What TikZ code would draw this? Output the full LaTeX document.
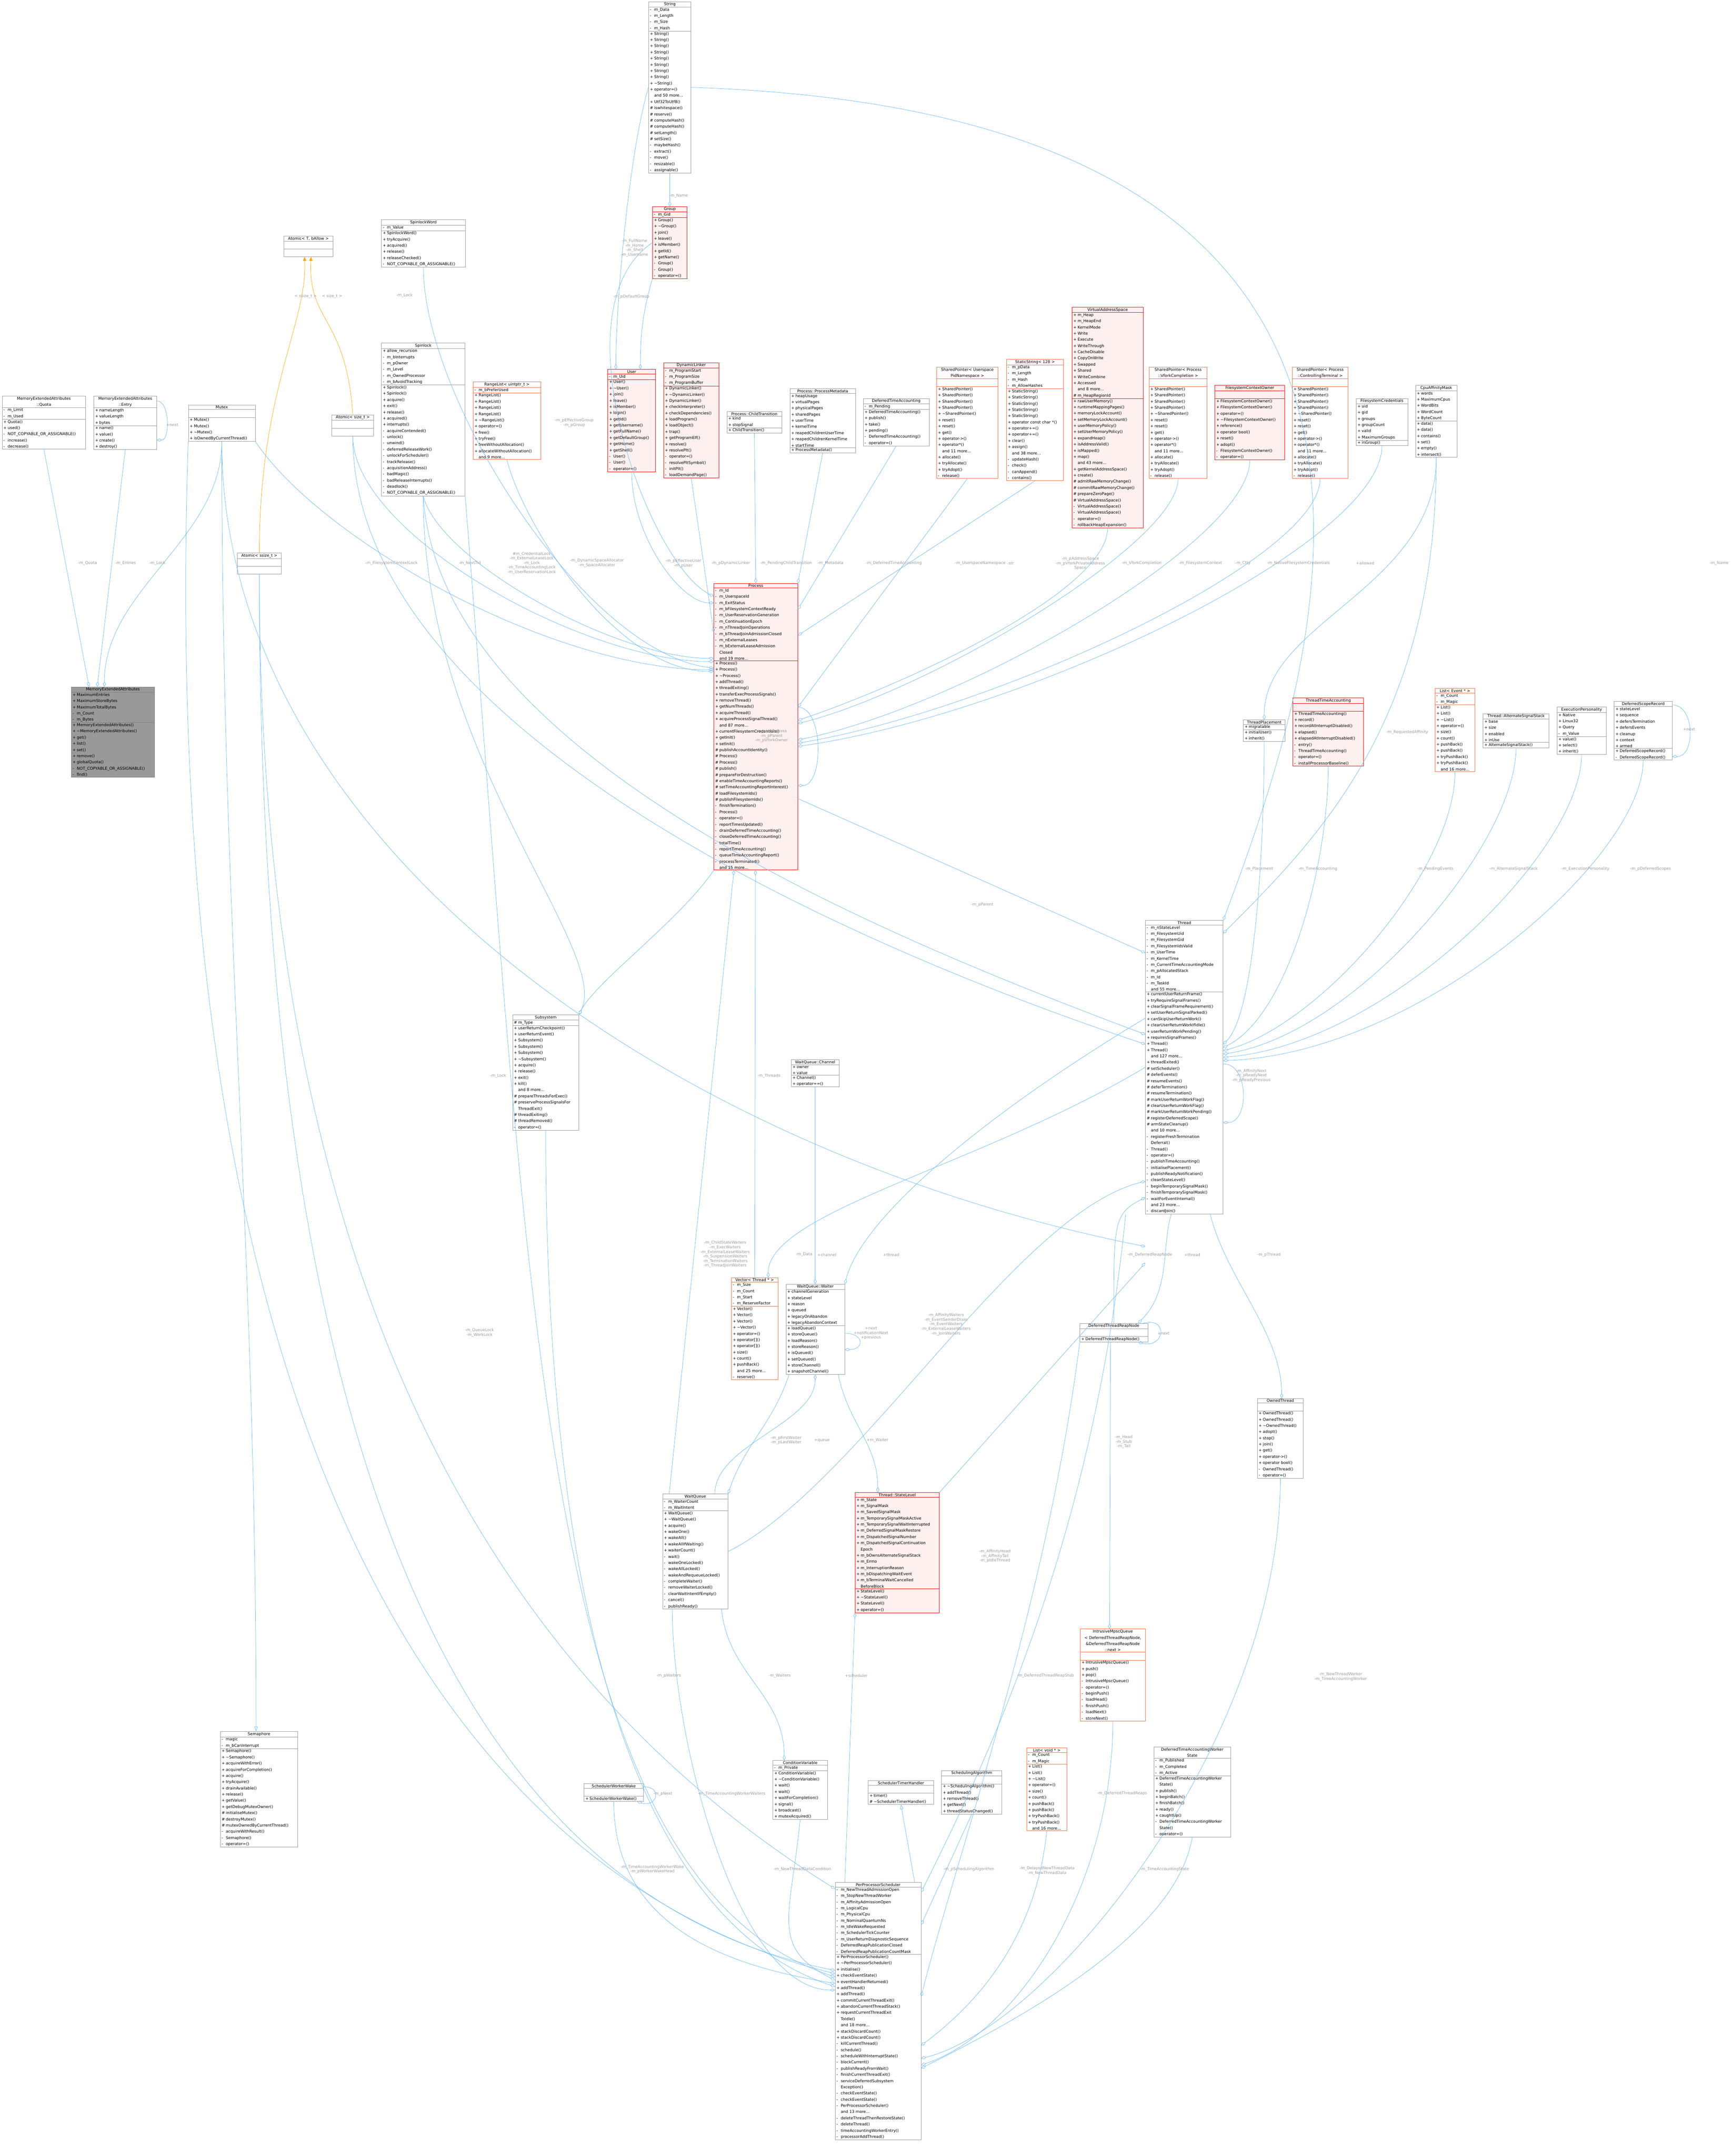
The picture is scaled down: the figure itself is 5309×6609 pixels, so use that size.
\documentclass[tikz,border=0pt]{standalone}
\usepackage{fontspec}
\setmainfont{DejaVu Sans}
\usetikzlibrary{shapes.multipart,arrows.meta,positioning}
\definecolor{edgeblue}{HTML}{63B8FF}
\definecolor{labelgray}{HTML}{9A9A9A}
\definecolor{boxgray}{HTML}{999999}
\definecolor{redfill}{HTML}{FFF0F0}
\definecolor{orangeline}{HTML}{FF6A3D}
\definecolor{tmplorange}{HTML}{FFA500}
\AtBeginDocument{\catcode`\_=12}
\newcommand{\rw}[2]{\makebox[13pt][l]{#1}#2}
\newcommand{\dt}{\textasciitilde}
\newcommand{\umlclass}[8]{% #1: node name, #2: x, #3: y (down)
                          % #4: width, #5: style, #6: title
                          % #7: fields, #8: methods
  \node (#1) [umlbox, #5, text width=#4pt-8pt, at={(#2,#3)}]
        {{\centering #6\par}\nodepart{second}#7\nodepart{third}#8};
}
\tikzset{
  umlbox/.style={rectangle split, rectangle split parts=3, draw=boxgray,
    line width=1pt, fill=white, anchor=north west, inner xsep=4pt, inner ysep=2pt,
    font=\fontsize{12}{19}\selectfont},
  redbox/.style={draw=red, fill=redfill},
  orbox/.style={draw=orangeline},
  focus/.style={fill=boxgray, draw=gray},
  agg/.style={draw=edgeblue, line width=1pt, -{Diamond[open,length=16pt,width=9pt]}},
  inh/.style={draw=edgeblue, line width=1pt, -{Triangle[open,length=14pt,width=10pt]}},
  tmpl/.style={draw=tmplorange, line width=1pt, -{Triangle[length=12pt,width=10pt]}},
  lbl/.style={text=labelgray, font=\fontsize{12}{14}\selectfont, align=center}
}
\begin{document}
\begin{tikzpicture}[x=1pt,y=-1pt]
\useasboundingbox (0,0) rectangle (5309,6609);

% ---- left column
\umlclass{mea}{218}{2105}{255}{focus}{MemoryExtendedAttributes}
 {\rw{+}{MaximumEntries}\\\rw{+}{MaximumStoreBytes}\\\rw{+}{MaximumTotalBytes}\\\rw{-}{m_Count}\\\rw{-}{m_Bytes}}
 {\rw{+}{MemoryExtendedAttributes()}\\\rw{+}{\dt MemoryExtendedAttributes()}\\\rw{+}{get()}\\\rw{+}{list()}\\\rw{+}{set()}\\\rw{+}{remove()}\\\rw{+}{globalQuota()}\\\rw{-}{NOT_COPYABLE_OR_ASSIGNABLE()}\\\rw{-}{find()}}
\umlclass{quota}{6}{1214}{256}{}{MemoryExtendedAttributes\\::Quota}
 {\rw{-}{m_Limit}\\\rw{-}{m_Used}}
 {\rw{+}{Quota()}\\\rw{+}{used()}\\\rw{-}{NOT_COPYABLE_OR_ASSIGNABLE()}\\\rw{-}{increase()}\\\rw{-}{decrease()}}
\umlclass{entry}{287}{1214}{193}{}{MemoryExtendedAttributes\\::Entry}
 {\rw{+}{nameLength}\\\rw{+}{valueLength}\\\rw{+}{bytes}}
 {\rw{+}{name()}\\\rw{+}{value()}\\\rw{+}{create()}\\\rw{+}{destroy()}}
\umlclass{mutex}{577}{1241}{205}{}{Mutex}{\strut}
 {\rw{+}{Mutex()}\\\rw{+}{Mutex()}\\\rw{+}{\dt Mutex()}\\\rw{+}{isOwnedByCurrentThread()}}
\umlclass{atomict}{870}{723}{150}{}{Atomic< T, bAllow >}{\strut}{\strut}
\umlclass{atomicsz}{1017}{1271}{128}{}{Atomic< size_t >}{\strut}{\strut}
\umlclass{atomicssz}{727}{1695}{135}{}{Atomic< ssize_t >}{\strut}{\strut}
\umlclass{spinword}{1169}{673}{257}{}{SpinlockWord}
 {\rw{-}{m_Value}}
 {\rw{+}{SpinlockWord()}\\\rw{+}{tryAcquire()}\\\rw{+}{acquired()}\\\rw{+}{release()}\\\rw{+}{releaseChecked()}\\\rw{-}{NOT_COPYABLE_OR_ASSIGNABLE()}}
\umlclass{spinlock}{1169}{1051}{256}{}{Spinlock}
 {\rw{+}{allow_recursion}\\\rw{-}{m_bInterrupts}\\\rw{-}{m_pOwner}\\\rw{-}{m_Level}\\\rw{-}{m_OwnedProcessor}\\\rw{-}{m_bAvoidTracking}}
 {\rw{+}{Spinlock()}\\\rw{+}{Spinlock()}\\\rw{+}{acquire()}\\\rw{+}{exit()}\\\rw{+}{release()}\\\rw{+}{acquired()}\\\rw{+}{interrupts()}\\\rw{-}{acquireContended()}\\\rw{-}{unlock()}\\\rw{-}{unwind()}\\\rw{-}{deferredReleaseWork()}\\\rw{-}{unlockForScheduler()}\\\rw{-}{trackRelease()}\\\rw{-}{acquisitionAddress()}\\\rw{-}{badMagic()}\\\rw{-}{badReleaseInterrupts()}\\\rw{-}{deadlock()}\\\rw{-}{NOT_COPYABLE_OR_ASSIGNABLE()}}
\umlclass{rangelist}{1450}{1170}{207}{orbox}{RangeList< uintptr_t >}
 {\rw{-}{m_bPreferUsed}}
 {\rw{+}{RangeList()}\\\rw{+}{RangeList()}\\\rw{+}{RangeList()}\\\rw{+}{RangeList()}\\\rw{+}{\dt RangeList()}\\\rw{+}{operator=()}\\\rw{+}{free()}\\\rw{+}{tryFree()}\\\rw{+}{freeWithoutAllocation()}\\\rw{+}{allocateWithoutAllocation()}\\\rw{}{and 9 more...}}

% ---- top row
\umlclass{string}{1988}{5}{130}{}{String}
 {\rw{-}{m_Data}\\\rw{-}{m_Length}\\\rw{-}{m_Size}\\\rw{-}{m_Hash}}
 {\rw{+}{String()}\\\rw{+}{String()}\\\rw{+}{String()}\\\rw{+}{String()}\\\rw{+}{String()}\\\rw{+}{String()}\\\rw{+}{String()}\\\rw{+}{String()}\\\rw{+}{\dt String()}\\\rw{+}{operator=()}\\\rw{}{and 50 more...}\\\rw{+}{Utf32ToUtf8()}\\\rw{\#}{iswhitespace()}\\\rw{\#}{reserve()}\\\rw{\#}{computeHash()}\\\rw{\#}{computeHash()}\\\rw{\#}{setLength()}\\\rw{\#}{setSize()}\\\rw{-}{maybeHash()}\\\rw{-}{extract()}\\\rw{-}{move()}\\\rw{-}{resizable()}\\\rw{-}{assignable()}}
\umlclass{group}{2000}{633}{106}{redbox}{Group}
 {\rw{-}{m_Gid}}
 {\rw{+}{Group()}\\\rw{+}{\dt Group()}\\\rw{+}{join()}\\\rw{+}{leave()}\\\rw{+}{isMember()}\\\rw{+}{getId()}\\\rw{+}{getName()}\\\rw{-}{Group()}\\\rw{-}{Group()}\\\rw{-}{operator=()}}
\umlclass{user}{1863}{1132}{146}{redbox}{User}
 {\rw{-}{m_Uid}}
 {\rw{+}{User()}\\\rw{+}{\dt User()}\\\rw{+}{join()}\\\rw{+}{leave()}\\\rw{+}{isMember()}\\\rw{+}{login()}\\\rw{+}{getId()}\\\rw{+}{getUsername()}\\\rw{+}{getFullName()}\\\rw{+}{getDefaultGroup()}\\\rw{+}{getHome()}\\\rw{+}{getShell()}\\\rw{-}{User()}\\\rw{-}{User()}\\\rw{-}{operator=()}}
\umlclass{dynlinker}{2034}{1111}{169}{redbox}{DynamicLinker}
 {\rw{-}{m_ProgramStart}\\\rw{-}{m_ProgramSize}\\\rw{-}{m_ProgramBuffer}}
 {\rw{+}{DynamicLinker()}\\\rw{+}{\dt DynamicLinker()}\\\rw{+}{DynamicLinker()}\\\rw{+}{checkInterpreter()}\\\rw{+}{checkDependencies()}\\\rw{+}{loadProgram()}\\\rw{+}{loadObject()}\\\rw{+}{trap()}\\\rw{+}{getProgramElf()}\\\rw{+}{resolve()}\\\rw{+}{resolvePlt()}\\\rw{-}{operator=()}\\\rw{-}{resolvePltSymbol()}\\\rw{-}{initPlt()}\\\rw{-}{loadDemandPage()}}
\umlclass{childtrans}{2228}{1261}{168}{}{Process::ChildTransition}
 {\rw{+}{kind}\\\rw{+}{stopSignal}}
 {\rw{+}{ChildTransition()}}
\umlclass{metadata}{2421}{1191}{201}{}{Process::ProcessMetadata}
 {\rw{+}{heapUsage}\\\rw{+}{virtualPages}\\\rw{+}{physicalPages}\\\rw{+}{sharedPages}\\\rw{+}{userTime}\\\rw{+}{kernelTime}\\\rw{+}{reapedChildrenUserTime}\\\rw{+}{reapedChildrenKernelTime}\\\rw{+}{startTime}}
 {\rw{+}{ProcessMetadata()}}
\umlclass{dta}{2646}{1221}{202}{}{DeferredTimeAccounting}
 {\rw{-}{m_Pending}}
 {\rw{+}{DeferredTimeAccounting()}\\\rw{+}{publish()}\\\rw{+}{take()}\\\rw{+}{pending()}\\\rw{-}{DeferredTimeAccounting()}\\\rw{-}{operator=()}}
\umlclass{spuns}{2871}{1125}{188}{orbox}{SharedPointer< Userspace\\PidNamespace >}{\strut}
 {\rw{+}{SharedPointer()}\\\rw{+}{SharedPointer()}\\\rw{+}{SharedPointer()}\\\rw{+}{SharedPointer()}\\\rw{+}{\dt SharedPointer()}\\\rw{+}{reset()}\\\rw{+}{reset()}\\\rw{+}{get()}\\\rw{+}{operator->()}\\\rw{+}{operator*()}\\\rw{}{and 11 more...}\\\rw{+}{allocate()}\\\rw{+}{tryAllocate()}\\\rw{+}{tryAdopt()}\\\rw{-}{release()}}
\umlclass{staticstr}{3085}{1101}{175}{orbox}{StaticString< 128 >}
 {\rw{-}{m_pData}\\\rw{-}{m_Length}\\\rw{-}{m_Hash}\\\rw{-}{m_AllowHashes}}
 {\rw{+}{StaticString()}\\\rw{+}{StaticString()}\\\rw{+}{StaticString()}\\\rw{+}{StaticString()}\\\rw{+}{StaticString()}\\\rw{+}{operator const char *()}\\\rw{+}{operator+=()}\\\rw{+}{operator+=()}\\\rw{+}{clear()}\\\rw{+}{assign()}\\\rw{}{and 38 more...}\\\rw{-}{updateHash()}\\\rw{-}{check()}\\\rw{-}{canAppend()}\\\rw{-}{contains()}}
\umlclass{vas}{3286}{941}{218}{redbox}{VirtualAddressSpace}
 {\rw{+}{m_Heap}\\\rw{+}{m_HeapEnd}\\\rw{+}{KernelMode}\\\rw{+}{Write}\\\rw{+}{Execute}\\\rw{+}{WriteThrough}\\\rw{+}{CacheDisable}\\\rw{+}{CopyOnWrite}\\\rw{+}{Swapped}\\\rw{+}{Shared}\\\rw{+}{WriteCombine}\\\rw{+}{Accessed}\\\rw{}{and 8 more...}\\\rw{\#}{m_HeapRegionId}}
 {\rw{+}{rawUserMemory()}\\\rw{+}{runtimeMappingPages()}\\\rw{+}{memoryLockAccount()}\\\rw{+}{setMemoryLockAccount()}\\\rw{+}{userMemoryPolicy()}\\\rw{+}{setUserMemoryPolicy()}\\\rw{+}{expandHeap()}\\\rw{+}{isAddressValid()}\\\rw{+}{isMapped()}\\\rw{+}{map()}\\\rw{}{and 43 more...}\\\rw{+}{getKernelAddressSpace()}\\\rw{+}{create()}\\\rw{\#}{admitRawMemoryChange()}\\\rw{\#}{commitRawMemoryChange()}\\\rw{\#}{prepareZeroPage()}\\\rw{\#}{VirtualAddressSpace()}\\\rw{-}{VirtualAddressSpace()}\\\rw{-}{VirtualAddressSpace()}\\\rw{-}{operator=()}\\\rw{-}{rollbackHeapExpansion()}}
\umlclass{spvfork}{3522}{1125}{178}{orbox}{SharedPointer< Process\\::VforkCompletion >}{\strut}
 {\rw{+}{SharedPointer()}\\\rw{+}{SharedPointer()}\\\rw{+}{SharedPointer()}\\\rw{+}{SharedPointer()}\\\rw{+}{\dt SharedPointer()}\\\rw{+}{reset()}\\\rw{+}{reset()}\\\rw{+}{get()}\\\rw{+}{operator->()}\\\rw{+}{operator*()}\\\rw{}{and 11 more...}\\\rw{+}{allocate()}\\\rw{+}{tryAllocate()}\\\rw{+}{tryAdopt()}\\\rw{-}{release()}}
\umlclass{fsowner}{3724}{1181}{214}{redbox}{FilesystemContextOwner}{\strut}
 {\rw{+}{FilesystemContextOwner()}\\\rw{+}{FilesystemContextOwner()}\\\rw{+}{operator=()}\\\rw{+}{\dt FilesystemContextOwner()}\\\rw{+}{reference()}\\\rw{+}{operator bool()}\\\rw{+}{reset()}\\\rw{+}{adopt()}\\\rw{-}{FilesystemContextOwner()}\\\rw{-}{operator=()}}
\umlclass{spctty}{3961}{1125}{171}{orbox}{SharedPointer< Process\\::ControllingTerminal >}{\strut}
 {\rw{+}{SharedPointer()}\\\rw{+}{SharedPointer()}\\\rw{+}{SharedPointer()}\\\rw{+}{SharedPointer()}\\\rw{+}{\dt SharedPointer()}\\\rw{+}{reset()}\\\rw{+}{reset()}\\\rw{+}{get()}\\\rw{+}{operator->()}\\\rw{+}{operator*()}\\\rw{}{and 11 more...}\\\rw{+}{allocate()}\\\rw{+}{tryAllocate()}\\\rw{+}{tryAdopt()}\\\rw{-}{release()}}
\umlclass{fscred}{4157}{1221}{158}{}{FilesystemCredentials}
 {\rw{+}{uid}\\\rw{+}{gid}\\\rw{+}{groups}\\\rw{+}{groupCount}\\\rw{+}{valid}\\\rw{+}{MaximumGroups}}
 {\rw{+}{inGroup()}}
\umlclass{cpumask}{4339}{1181}{127}{}{CpuAffinityMask}
 {\rw{+}{words}\\\rw{+}{MaximumCpus}\\\rw{+}{WordBits}\\\rw{+}{WordCount}\\\rw{+}{ByteCount}}
 {\rw{+}{data()}\\\rw{+}{data()}\\\rw{+}{contains()}\\\rw{+}{set()}\\\rw{+}{empty()}\\\rw{+}{intersect()}}

% ---- centre
\umlclass{process}{2188}{1788}{257}{redbox}{Process}
 {\rw{-}{m_Id}\\\rw{-}{m_UserspaceId}\\\rw{-}{m_ExitStatus}\\\rw{-}{m_bFilesystemContextReady}\\\rw{-}{m_UserReservationGeneration}\\\rw{-}{m_ContinuationEpoch}\\\rw{-}{m_nThreadJoinOperations}\\\rw{-}{m_bThreadJoinAdmissionClosed}\\\rw{-}{m_nExternalLeases}\\\rw{-}{m_bExternalLeaseAdmission}\\\rw{}{Closed}\\\rw{}{and 19 more...}}
 {\rw{+}{Process()}\\\rw{+}{Process()}\\\rw{+}{\dt Process()}\\\rw{+}{addThread()}\\\rw{+}{threadExiting()}\\\rw{+}{transferExecProcessSignals()}\\\rw{+}{removeThread()}\\\rw{+}{getNumThreads()}\\\rw{+}{acquireThread()}\\\rw{+}{acquireProcessSignalThread()}\\\rw{}{and 87 more...}\\\rw{+}{currentFilesystemCredentials()}\\\rw{+}{getInit()}\\\rw{+}{setInit()}\\\rw{\#}{publishAccountIdentity()}\\\rw{\#}{Process()}\\\rw{\#}{Process()}\\\rw{\#}{publish()}\\\rw{\#}{prepareForDestruction()}\\\rw{\#}{enableTimeAccountingReports()}\\\rw{\#}{setTimeAccountingReportInterest()}\\\rw{\#}{loadFilesystemIds()}\\\rw{\#}{publishFilesystemIds()}\\\rw{-}{finishTermination()}\\\rw{-}{Process()}\\\rw{-}{operator=()}\\\rw{-}{reportTimesUpdated()}\\\rw{-}{drainDeferredTimeAccounting()}\\\rw{-}{closeDeferredTimeAccounting()}\\\rw{-}{totalTime()}\\\rw{-}{reportTimeAccounting()}\\\rw{-}{queueTimeAccountingReport()}\\\rw{-}{processTerminated()}\\\rw{}{and 15 more...}}
\umlclass{thread}{3511}{2821}{238}{}{Thread}
 {\rw{-}{m_nStateLevel}\\\rw{-}{m_FilesystemUid}\\\rw{-}{m_FilesystemGid}\\\rw{-}{m_FilesystemIdsValid}\\\rw{-}{m_UserTime}\\\rw{-}{m_KernelTime}\\\rw{-}{m_CurrentTimeAccountingMode}\\\rw{-}{m_pAllocatedStack}\\\rw{-}{m_Id}\\\rw{-}{m_TaskId}\\\rw{}{and 55 more...}}
 {\rw{+}{currentUserReturnFrame()}\\\rw{+}{tryRequireSignalFrames()}\\\rw{+}{clearSignalFrameRequirement()}\\\rw{+}{setUserReturnSignalParked()}\\\rw{+}{canSkipUserReturnWork()}\\\rw{+}{clearUserReturnWorkIfIdle()}\\\rw{+}{userReturnWorkPending()}\\\rw{+}{requiresSignalFrames()}\\\rw{+}{Thread()}\\\rw{+}{Thread()}\\\rw{}{and 127 more...}\\\rw{+}{threadExited()}\\\rw{\#}{setScheduler()}\\\rw{\#}{deferEvents()}\\\rw{\#}{resumeEvents()}\\\rw{\#}{deferTermination()}\\\rw{\#}{resumeTermination()}\\\rw{\#}{markUserReturnWorkFlag()}\\\rw{\#}{clearUserReturnWorkFlag()}\\\rw{\#}{markUserReturnWorkPending()}\\\rw{\#}{registerDeferredScope()}\\\rw{\#}{armStateCleanup()}\\\rw{}{and 10 more...}\\\rw{-}{registerFreshTermination}\\\rw{}{Deferral()}\\\rw{-}{Thread()}\\\rw{-}{operator=()}\\\rw{-}{publishTimeAccounting()}\\\rw{-}{initialisePlacement()}\\\rw{-}{publishReadyNotification()}\\\rw{-}{cleanStateLevel()}\\\rw{-}{beginTemporarySignalMask()}\\\rw{-}{finishTemporarySignalMask()}\\\rw{-}{waitForEventInternal()}\\\rw{}{and 23 more...}\\\rw{-}{discardJoin()}}

% ---- right column
\umlclass{tplace}{3811}{2206}{128}{}{ThreadPlacement}
 {\rw{+}{migratable}}
 {\rw{+}{initialUser()}\\\rw{+}{inherit()}}
\umlclass{tta}{3963}{2139}{217}{redbox}{ThreadTimeAccounting}{\strut}
 {\rw{+}{ThreadTimeAccounting()}\\\rw{+}{record()}\\\rw{+}{recordAtInterruptDisabled()}\\\rw{+}{elapsed()}\\\rw{+}{elapsedAtInterruptDisabled()}\\\rw{-}{entry()}\\\rw{-}{ThreadTimeAccounting()}\\\rw{-}{operator=()}\\\rw{-}{installProcessorBaseline()}}
\umlclass{listevent}{4399}{2110}{122}{orbox}{List< Event * >}
 {\rw{-}{m_Count}\\\rw{-}{m_Magic}}
 {\rw{+}{List()}\\\rw{+}{List()}\\\rw{+}{\dt List()}\\\rw{+}{operator=()}\\\rw{+}{size()}\\\rw{+}{count()}\\\rw{+}{pushBack()}\\\rw{+}{pushBack()}\\\rw{+}{tryPushBack()}\\\rw{+}{tryPushBack()}\\\rw{}{and 16 more...}}
\umlclass{altstack}{4546}{2187}{202}{}{Thread::AlternateSignalStack}
 {\rw{+}{base}\\\rw{+}{size}\\\rw{+}{enabled}\\\rw{+}{inUse}}
 {\rw{+}{AlternateSignalStack()}}
\umlclass{execpers}{4773}{2167}{150}{}{ExecutionPersonality}
 {\rw{+}{Native}\\\rw{+}{Linux32}\\\rw{+}{Query}\\\rw{-}{m_Value}}
 {\rw{+}{value()}\\\rw{+}{select()}\\\rw{+}{inherit()}}
\umlclass{dsr}{4948}{2149}{178}{}{DeferredScopeRecord}
 {\rw{+}{stateLevel}\\\rw{+}{sequence}\\\rw{+}{defersTermination}\\\rw{+}{defersEvents}\\\rw{+}{cleanup}\\\rw{+}{context}\\\rw{+}{armed}}
 {\rw{+}{DeferredScopeRecord()}\\\rw{-}{DeferredScopeRecord()}}

% ---- middle
\umlclass{subsystem}{1571}{3110}{203}{}{Subsystem}
 {\rw{\#}{m_Type}}
 {\rw{+}{userReturnCheckpoint()}\\\rw{+}{userReturnEvent()}\\\rw{+}{Subsystem()}\\\rw{+}{Subsystem()}\\\rw{+}{Subsystem()}\\\rw{+}{\dt Subsystem()}\\\rw{+}{acquire()}\\\rw{+}{release()}\\\rw{+}{exit()}\\\rw{+}{kill()}\\\rw{}{and 8 more...}\\\rw{\#}{prepareThreadsForExec()}\\\rw{\#}{preserveProcessSignalsFor}\\\rw{}{ThreadExit()}\\\rw{\#}{threadExiting()}\\\rw{\#}{threadRemoved()}\\\rw{-}{operator=()}}
\umlclass{channel}{2425}{3248}{147}{}{WaitQueue::Channel}
 {\rw{+}{owner}\\\rw{+}{value}}
 {\rw{+}{Channel()}\\\rw{+}{operator==()}}
\umlclass{vector}{2242}{3916}{142}{orbox}{Vector< Thread * >}
 {\rw{-}{m_Size}\\\rw{-}{m_Count}\\\rw{-}{m_Start}\\\rw{-}{m_ReserveFactor}}
 {\rw{+}{Vector()}\\\rw{+}{Vector()}\\\rw{+}{Vector()}\\\rw{+}{\dt Vector()}\\\rw{+}{operator=()}\\\rw{+}{operator[]()}\\\rw{+}{operator[]()}\\\rw{+}{size()}\\\rw{+}{count()}\\\rw{+}{pushBack()}\\\rw{}{and 25 more...}\\\rw{-}{reserve()}}
\umlclass{waiter}{2409}{3936}{180}{}{WaitQueue::Waiter}
 {\rw{+}{channelGeneration}\\\rw{+}{stateLevel}\\\rw{+}{reason}\\\rw{+}{queued}\\\rw{+}{legacyOnAbandon}\\\rw{+}{legacyAbandonContext}}
 {\rw{+}{loadQueue()}\\\rw{+}{storeQueue()}\\\rw{+}{loadReason()}\\\rw{+}{storeReason()}\\\rw{+}{isQueued()}\\\rw{+}{setQueued()}\\\rw{+}{storeChannel()}\\\rw{+}{snapshotChannel()}}
\umlclass{dtrn}{3310}{4056}{208}{}{DeferredThreadReapNode}{\strut}
 {\rw{+}{DeferredThreadReapNode()}}
\umlclass{owned}{3854}{4286}{141}{}{OwnedThread}{\strut}
 {\rw{+}{OwnedThread()}\\\rw{+}{OwnedThread()}\\\rw{+}{\dt OwnedThread()}\\\rw{+}{adopt()}\\\rw{+}{stop()}\\\rw{+}{join()}\\\rw{+}{get()}\\\rw{+}{operator->()}\\\rw{+}{operator bool()}\\\rw{-}{OwnedThread()}\\\rw{-}{operator=()}}
\umlclass{waitqueue}{2031}{4579}{200}{}{WaitQueue}
 {\rw{-}{m_WaiterCount}\\\rw{-}{m_WaitIntent}}
 {\rw{+}{WaitQueue()}\\\rw{+}{\dt WaitQueue()}\\\rw{+}{acquire()}\\\rw{+}{wakeOne()}\\\rw{+}{wakeAll()}\\\rw{+}{wakeAllIfWaiting()}\\\rw{+}{waiterCount()}\\\rw{-}{wait()}\\\rw{-}{wakeOneLocked()}\\\rw{-}{wakeAllLocked()}\\\rw{-}{wakeAndRequeueLocked()}\\\rw{-}{completeWaiter()}\\\rw{-}{removeWaiterLocked()}\\\rw{-}{clearWaitIntentIfEmpty()}\\\rw{-}{cancel()}\\\rw{-}{publishReady()}}
\umlclass{statelevel}{2621}{4575}{258}{redbox}{Thread::StateLevel}
 {\rw{+}{m_State}\\\rw{+}{m_SignalMask}\\\rw{+}{m_SavedSignalMask}\\\rw{+}{m_TemporarySignalMaskActive}\\\rw{+}{m_TemporarySignalWaitInterrupted}\\\rw{+}{m_DeferredSignalMaskRestore}\\\rw{+}{m_DispatchedSignalNumber}\\\rw{+}{m_DispatchedSignalContinuation}\\\rw{}{Epoch}\\\rw{+}{m_bOwnsAlternateSignalStack}\\\rw{+}{m_Errno}\\\rw{+}{m_InterruptionReason}\\\rw{+}{m_bDispatchingWaitEvent}\\\rw{+}{m_bTerminalWaitCancelled}\\\rw{}{BeforeBlock}}
 {\rw{+}{StateLevel()}\\\rw{+}{\dt StateLevel()}\\\rw{+}{StateLevel()}\\\rw{+}{operator=()}}
\umlclass{mpsc}{3311}{4993}{200}{orbox}{IntrusiveMpscQueue\\< DeferredThreadReapNode,\\ \&DeferredThreadReapNode\\::next >}{\strut}
 {\rw{+}{IntrusiveMpscQueue()}\\\rw{+}{push()}\\\rw{+}{pop()}\\\rw{-}{IntrusiveMpscQueue()}\\\rw{-}{operator=()}\\\rw{-}{beginPush()}\\\rw{-}{loadHead()}\\\rw{-}{finishPush()}\\\rw{-}{loadNext()}\\\rw{-}{storeNext()}}

% ---- bottom
\umlclass{semaphore}{675}{5307}{237}{}{Semaphore}
 {\rw{-}{magic}\\\rw{-}{m_bCanInterrupt}}
 {\rw{+}{Semaphore()}\\\rw{+}{\dt Semaphore()}\\\rw{+}{acquireWithError()}\\\rw{+}{acquireForCompletion()}\\\rw{+}{acquire()}\\\rw{+}{tryAcquire()}\\\rw{+}{drainAvailable()}\\\rw{+}{release()}\\\rw{+}{getValue()}\\\rw{+}{getDebugMutexOwner()}\\\rw{\#}{initialiseMutex()}\\\rw{\#}{destroyMutex()}\\\rw{\#}{mutexOwnedByCurrentThread()}\\\rw{-}{acquireWithResult()}\\\rw{-}{Semaphore()}\\\rw{-}{operator=()}}
\umlclass{sww}{1790}{5467}{182}{}{SchedulerWorkerWake}{\strut}
 {\rw{+}{SchedulerWorkerWake()}}
\umlclass{condvar}{2369}{5396}{167}{}{ConditionVariable}
 {\rw{-}{m_Private}}
 {\rw{+}{ConditionVariable()}\\\rw{+}{\dt ConditionVariable()}\\\rw{+}{wait()}\\\rw{+}{wait()}\\\rw{+}{waitForCompletion()}\\\rw{+}{signal()}\\\rw{+}{broadcast()}\\\rw{+}{mutexAcquired()}}
\umlclass{sth}{2661}{5458}{201}{}{SchedulerTimerHandler}{\strut}
 {\rw{+}{timer()}\\\rw{\#}{\dt SchedulerTimerHandler()}}
\umlclass{schedalg}{2886}{5427}{185}{}{SchedulingAlgorithm}{\strut}
 {\rw{+}{\dt SchedulingAlgorithm()}\\\rw{+}{addThread()}\\\rw{+}{removeThread()}\\\rw{+}{getNext()}\\\rw{+}{threadStatusChanged()}}
\umlclass{listvoid}{3147}{5357}{123}{orbox}{List< void * >}
 {\rw{-}{m_Count}\\\rw{-}{m_Magic}}
 {\rw{+}{List()}\\\rw{+}{List()}\\\rw{+}{\dt List()}\\\rw{+}{operator=()}\\\rw{+}{size()}\\\rw{+}{count()}\\\rw{+}{pushBack()}\\\rw{+}{pushBack()}\\\rw{+}{tryPushBack()}\\\rw{+}{tryPushBack()}\\\rw{}{and 16 more...}}
\umlclass{dtaws}{3537}{5355}{235}{}{DeferredTimeAccountingWorker\\State}
 {\rw{-}{m_Published}\\\rw{-}{m_Completed}\\\rw{-}{m_Active}}
 {\rw{+}{DeferredTimeAccountingWorker}\\\rw{}{State()}\\\rw{+}{publish()}\\\rw{+}{beginBatch()}\\\rw{+}{finishBatch()}\\\rw{+}{ready()}\\\rw{+}{caughtUp()}\\\rw{-}{DeferredTimeAccountingWorker}\\\rw{}{State()}\\\rw{-}{operator=()}}
\umlclass{pps}{2560}{5770}{263}{}{PerProcessorScheduler}
 {\rw{-}{m_NewThreadAdmissionOpen}\\\rw{-}{m_StopNewThreadWorker}\\\rw{-}{m_AffinityAdmissionOpen}\\\rw{-}{m_LogicalCpu}\\\rw{-}{m_PhysicalCpu}\\\rw{-}{m_NominalQuantumNs}\\\rw{-}{m_IdleWakeRequested}\\\rw{-}{m_SchedulerTickCounter}\\\rw{-}{m_UserReturnDiagnosticSequence}\\\rw{-}{DeferredReapPublicationClosed}\\\rw{-}{DeferredReapPublicationCountMask}}
 {\rw{+}{PerProcessorScheduler()}\\\rw{+}{\dt PerProcessorScheduler()}\\\rw{+}{initialise()}\\\rw{+}{checkEventState()}\\\rw{+}{eventHandlerReturned()}\\\rw{+}{addThread()}\\\rw{+}{addThread()}\\\rw{+}{commitCurrentThreadExit()}\\\rw{+}{abandonCurrentThreadStack()}\\\rw{+}{requestCurrentThreadExit}\\\rw{}{ToIdle()}\\\rw{}{and 18 more...}\\\rw{+}{stackDiscardCount()}\\\rw{+}{stackDiscardCount()}\\\rw{-}{killCurrentThread()}\\\rw{-}{schedule()}\\\rw{-}{scheduleWithInterruptState()}\\\rw{-}{blockCurrent()}\\\rw{-}{publishReadyFromWait()}\\\rw{-}{finishCurrentThreadExit()}\\\rw{-}{serviceDeferredSubsystem}\\\rw{}{Exception()}\\\rw{-}{checkEventState()}\\\rw{-}{checkEventState()}\\\rw{-}{PerProcessorScheduler()}\\\rw{}{and 13 more...}\\\rw{-}{deleteThreadThenRestoreState()}\\\rw{-}{deleteThread()}\\\rw{-}{timeAccountingWorkerEntry()}\\\rw{-}{processorAddThread()}}

% ---- connectors
\draw[agg] (quota.south) -- ([xshift=55pt]mea.north west);
\draw[agg] (entry.south) -- ([xshift=80pt]mea.north west);
\draw[agg] (mutex.south) .. controls +(0,300) and +(0,-300) .. ([xshift=102pt]mea.north west);
\draw[agg] ([yshift=-15pt]entry.north east) .. controls +(40,0) and +(40,0) .. ([yshift=30pt]entry.south east);
\draw[tmpl] (atomicsz.north) .. controls +(-20,-300) and +(-10,200) .. ([xshift=8pt]atomict.south);
\draw[tmpl] (atomicssz.north) .. controls +(0,-500) and +(10,200) .. ([xshift=-12pt]atomict.south);
\draw[inh] (mutex.south) .. controls +(0,1500) and +(0,-1500) .. ([xshift=110pt]semaphore.north west);
\draw[agg] (string.south) -- (group.north);
\draw[agg] (string.west) .. controls +(-60,200) and +(0,-200) .. ([xshift=25pt]user.north west);
\draw[agg] (string.east) .. controls +(2500,80) and +(300,-800) .. (thread.north east);
\draw[agg] (group.south west) .. controls +(-30,100) and +(0,-100) .. ([xshift=100pt]user.north west);
\draw[agg] (group.west) .. controls +(-300,200) and +(-200,-100) .. ([yshift=-40pt]process.north west);
\draw[agg] (user.south) .. controls +(0,200) and +(-100,0) .. ([yshift=-60pt]process.north west);
\draw[agg] (dynlinker.south) -- ([yshift=-150pt]process.north west);
\draw[agg] (childtrans.south) -- (process.north);
\draw[agg] (metadata.south) -- (process.north east);
\draw[agg] (dta.south) -- ([yshift=-80pt]process.north east);
\draw[agg] (spuns.south) -- ([yshift=-380pt]process.north east);
\draw[agg] (staticstr.south) -- ([yshift=-160pt]process.north east);
\draw[agg] (vas.south) .. controls +(0,200) and +(300,-100) .. ([yshift=-420pt]process.north east);
\draw[agg] (spvfork.south) .. controls +(0,200) and +(400,-100) .. ([yshift=-430pt]process.north east);
\draw[agg] (fsowner.south) .. controls +(0,250) and +(500,-100) .. ([yshift=-480pt]process.north east);
\draw[agg] (spctty.south) .. controls +(0,250) and +(600,-100) .. ([yshift=-490pt]process.north east);
\draw[agg] (fscred.south) .. controls +(0,300) and +(700,-100) .. ([yshift=-500pt]process.north east);
\draw[agg] (cpumask.south) .. controls +(0,400) and +(0,-300) .. (tplace.north);
\draw[agg] (cpumask.south) .. controls +(0,800) and +(300,-300) .. ([yshift=-40pt]thread.north east);
\draw[agg] (spinlock.south) .. controls +(50,200) and +(-300,0) .. ([yshift=-230pt]process.north west);
\draw[agg] (spinlock.south) .. controls +(50,800) and +(-800,-300) .. ([yshift=-350pt]thread.north west);
\draw[agg] (spinlock.south) .. controls +(0,800) and +(100,-200) .. (subsystem.north east);
\draw[agg] (atomicsz.south) .. controls +(0,300) and +(-400,0) .. ([yshift=-240pt]process.north west);
\draw[agg] (atomicsz.south) .. controls +(0,900) and +(-900,-300) .. ([yshift=-380pt]thread.north west);
\draw[agg] (spinword.south) .. controls +(0,400) and +(-400,-50) .. ([yshift=-260pt]process.north west);
\draw[agg] (mutex.south east) .. controls +(200,300) and +(-500,0) .. ([yshift=-265pt]process.north west);
\draw[agg] (mutex.south) .. controls +(0,1200) and +(-1500,-300) .. ([yshift=-1000pt]thread.north west);
\draw[agg] (atomicssz.south) .. controls +(0,2500) and +(-800,-500) .. ([yshift=-20pt]pps.north west);
\draw[agg] (rangelist.south) .. controls +(50,200) and +(-300,0) .. ([yshift=-270pt]process.north west);
\draw[agg] ([yshift=-380pt]process.north east) .. controls +(80,0) and +(80,0) .. ([yshift=-620pt]process.north east);
\draw[agg] ([yshift=-660pt]process.north east) -- ([yshift=-100pt]thread.north west);
\draw[agg] (process.south west) .. controls +(-100,150) and +(50,-100) .. (subsystem.north east);
\draw[agg] (vector.north) -- ([xshift=128pt]process.south west);
\draw[agg] ([xshift=-80pt]waitqueue.north) -- ([xshift=62pt]process.south west);
\draw[agg] (thread.west) .. controls +(-500,300) and +(0,-200) .. ([xshift=113pt]vector.north west);
\draw[agg] (channel.south) -- ([xshift=90pt]waiter.north west);
\draw[agg] ([yshift=-300pt]thread.north west) .. controls +(-500,300) and +(50,-200) .. (waiter.north east);
\draw[agg] ([yshift=-12pt]waiter.east) .. controls +(60,0) and +(60,0) .. ([yshift=-62pt]waiter.east);
\draw[agg] ([xshift=10pt]waiter.south west) .. controls +(-50,150) and +(50,-150) .. (waitqueue.north east);
\draw[agg] ([xshift=60pt]waitqueue.north) .. controls +(0,-150) and +(0,150) .. ([xshift=90pt]waiter.south west);
\draw[agg] ([xshift=-20pt]waiter.south east) .. controls +(30,150) and +(0,-150) .. ([xshift=70pt]statelevel.north west);
\draw[agg] (waitqueue.east) .. controls +(400,-200) and +(-400,100) .. ([yshift=-800pt]thread.north west);
\draw[agg] (statelevel.north east) -- ([yshift=-1050pt]thread.north west);
\draw[agg] ([yshift=-440pt]thread.north east) .. controls +(80,0) and +(80,0) .. ([yshift=-620pt]thread.north east);
\draw[agg] ([xshift=-40pt]thread.south east) .. controls +(50,200) and +(0,-200) .. ([xshift=75pt]owned.north west);
\draw[agg] ([xshift=-40pt]thread.south) .. controls +(-30,100) and +(100,-100) .. ([xshift=-30pt]dtrn.north east);
\draw[agg] (dtrn.north) .. controls +(0,-300) and +(-100,50) .. ([yshift=-850pt]thread.north west);
\draw[agg] ([xshift=-15pt]dtrn.north east) .. controls +(80,-20) and +(80,20) .. ([xshift=-30pt]dtrn.south east);
\draw[agg] ([xshift=-10pt]dtrn.south) -- ([xshift=-10pt]mpsc.north);
\draw[agg] (tplace.south) .. controls +(0,300) and +(100,-100) .. ([yshift=-380pt]thread.north east);
\draw[agg] (tta.south) .. controls +(0,300) and +(200,-100) .. ([yshift=-390pt]thread.north east);
\draw[agg] (listevent.south) .. controls +(0,300) and +(300,-80) .. ([yshift=-400pt]thread.north east);
\draw[agg] (altstack.south) .. controls +(0,300) and +(400,-60) .. ([yshift=-410pt]thread.north east);
\draw[agg] (execpers.south) .. controls +(0,300) and +(500,-40) .. ([yshift=-420pt]thread.north east);
\draw[agg] (dsr.south) .. controls +(0,300) and +(600,-20) .. ([yshift=-430pt]thread.north east);
\draw[agg] ([yshift=-12pt]dsr.north east) .. controls +(70,0) and +(70,0) .. ([yshift=-170pt]dsr.north east);
\draw[agg] ([xshift=30pt]waitqueue.south west) .. controls +(0,400) and +(-300,0) .. ([yshift=-330pt]pps.north west);
\draw[agg] ([xshift=-20pt]waitqueue.south east) .. controls +(20,200) and +(0,-200) .. ([xshift=35pt]condvar.north west);
\draw[agg] ([xshift=30pt]pps.north west) -- (statelevel.south west);
\draw[agg] ([xshift=-60pt]thread.south west) .. controls +(-100,1000) and +(200,-400) .. ([yshift=-30pt]pps.north east);
\draw[agg] (dtrn.south west) .. controls +(-100,800) and +(100,-400) .. ([yshift=-350pt]pps.north east);
\draw[agg] (mpsc.south) .. controls +(0,500) and +(300,-100) .. ([yshift=-560pt]pps.north east);
\draw[agg] (sww.south) .. controls +(0,400) and +(-300,-50) .. ([yshift=-310pt]pps.north west);
\draw[agg] ([yshift=-10pt]sww.north east) .. controls +(60,0) and +(60,20) .. ([xshift=-20pt]sww.south east);
\draw[agg] (subsystem.south) .. controls +(0,1500) and +(-600,-200) .. ([yshift=-320pt]pps.north west);
\draw[agg] (condvar.south) .. controls +(-30,300) and +(-200,-100) .. ([yshift=-300pt]pps.north west);
\draw[inh] ([xshift=-20pt]pps.north east) -- (sth.south);
\draw[agg] (schedalg.south) -- ([yshift=-130pt]pps.north east);
\draw[agg] (listvoid.south) .. controls +(-30,300) and +(200,-150) .. ([yshift=-500pt]pps.north east);
\draw[agg] (dtaws.south) .. controls +(-50,300) and +(300,-150) .. ([yshift=-570pt]pps.north east);
\draw[agg] (owned.south) .. controls +(0,800) and +(400,-100) .. ([yshift=-540pt]pps.north east);
\draw[agg] (spinlock.south east) .. controls +(200,2500) and +(-900,-300) .. ([yshift=-290pt]pps.north west);
\draw[agg] (mutex.south west) .. controls +(-100,3000) and +(-1200,-300) .. ([yshift=-280pt]pps.north west);
\draw[agg] (atomicssz.south) .. controls +(0,3000) and +(-1000,-200) .. ([yshift=-270pt]pps.north west);

% ---- connector labels
\node (l_quota) [lbl] at (268,1726) {-m_Quota};
\node (l_entries) [lbl] at (385,1726) {-m_Entries};
\node (l_lock) [lbl] at (482,1726) {-m_Lock};
\node (l_next1) [lbl] at (528,1303) {+next};
\node (l_sizet) [lbl] at (1018,908) {< size_t >};
\node (l_ssizet) [lbl] at (937,908) {< ssize_t >};
\node (l_word) [lbl] at (1240,906) {-m_Lock};
\node (l_fsclock) [lbl] at (1200,1726) {-m_FilesystemContextLock};
\node (l_nexttid) [lbl] at (1440,1726) {-m_NextTid};
\node (l_locks) [lbl] at (1630,1726) {\#m_CredentialLock\\-m_ExternalLeaseLock\\-m_Lock\\-m_TimeAccountingLock\\-m_UserReservationLock};
\node (l_space) [lbl] at (1830,1726) {-m_DynamicSpaceAllocator\\-m_SpaceAllocator};
\node (l_gname) [lbl] at (2080,600) {-m_Name};
\node (l_uname) [lbl] at (1945,760) {-m_FullName\\-m_Home\\-m_Shell\\-m_Username};
\node (l_defgroup) [lbl] at (1935,909) {-m_pDefaultGroup};
\node (l_pgroup) [lbl] at (1760,1296) {-m_pEffectiveGroup\\-m_pGroup};
\node (l_puser) [lbl] at (2095,1727) {-m_pEffectiveUser\\-m_pUser};
\node (l_dynl) [lbl] at (2240,1727) {-m_pDynamicLinker};
\node (l_pct) [lbl] at (2410,1727) {-m_PendingChildTransition};
\node (l_meta) [lbl] at (2546,1727) {-m_Metadata};
\node (l_dta) [lbl] at (2740,1727) {-m_DeferredTimeAccounting};
\node (l_uns) [lbl] at (3005,1727) {-m_UserspaceNamespace};
\node (l_str) [lbl] at (3098,1727) {-str};
\node (l_vas) [lbl] at (3312,1727) {-m_pAddressSpace\\-m_pVforkPrivateAddress\\Space};
\node (l_vfork) [lbl] at (3500,1727) {-m_VforkCompletion};
\node (l_fsc) [lbl] at (3680,1727) {-m_FilesystemContext};
\node (l_ctty) [lbl] at (3810,1727) {-m_Ctty};
\node (l_nfc) [lbl] at (3980,1727) {-m_NativeFilesystemCredentials};
\node (l_allowed) [lbl] at (4185,1727) {+allowed};
\node (l_name) [lbl] at (5270,1727) {-m_Name};
\node (l_selfp) [lbl] at (2365,2256) {-m_pInitProcess\\-m_pParent\\-m_pVforkOwner};
\node (l_parent) [lbl] at (3011,2773) {-m_pParent};
\node (l_reqaff) [lbl] at (4314,2245) {-m_RequestedAffinity};
\node (l_place) [lbl] at (3860,2664) {-m_Placement};
\node (l_tacc) [lbl] at (4040,2664) {-m_TimeAccounting};
\node (l_pev) [lbl] at (4400,2664) {-m_PendingEvents};
\node (l_alt) [lbl] at (4640,2664) {-m_AlternateSignalStack};
\node (l_pers) [lbl] at (4860,2664) {-m_ExecutionPersonality};
\node (l_dscopes) [lbl] at (5060,2664) {-m_pDeferredScopes};
\node (l_next2) [lbl] at (5178,2235) {+next};
\node (l_selft) [lbl] at (3836,3297) {-m_AffinityNext\\-m_pReadyNext\\-m_pReadyPrevious};
\node (l_reap) [lbl] at (3525,3846) {-m_DeferredReapNode};
\node (l_thr) [lbl] at (3655,3846) {+thread};
\node (l_pthr) [lbl] at (3890,3846) {-m_pThread};
\node (l_next3) [lbl] at (3567,4088) {+next};
\node (l_hst) [lbl] at (3445,4420) {-m_Head\\-m_Stub\\-m_Tail};
\node (l_sslock) [lbl] at (1527,3298) {-m_Lock};
\node (l_threads) [lbl] at (2357,3298) {-m_Threads};
\node (l_waiters) [lbl] at (2223,3845) {-m_ChildStateWaiters\\-m_ExecWaiters\\-m_ExternalLeaseWaiters\\-m_SuspensionWaiters\\-m_TerminationWaiters\\-m_ThreadJoinWaiters};
\node (l_data) [lbl] at (2465,3846) {-m_Data};
\node (l_chan) [lbl] at (2535,3846) {+channel};
\node (l_wthr) [lbl] at (2732,3846) {+thread};
\node (l_wself) [lbl] at (2670,4087) {+next\\+notificationNext\\+previous};
\node (l_fw) [lbl] at (2410,4415) {-m_pFirstWaiter\\-m_pLastWaiter};
\node (l_queue) [lbl] at (2520,4415) {+queue};
\node (l_mw) [lbl] at (2690,4415) {+m_Waiter};
\node (l_tw) [lbl] at (2900,4060) {-m_AffinityWaiters\\-m_EventSenderDrain\\-m_EventWaiters\\-m_ExternalLeaseWaiters\\-m_JoinWaiters};
\node (l_qlock) [lbl] at (1470,4085) {-m_QueueLock\\-m_WorkLock};
\node (l_pw) [lbl] at (2050,5137) {-m_pWaiters};
\node (l_cw) [lbl] at (2390,5137) {-m_Waiters};
\node (l_sched) [lbl] at (2625,5137) {+scheduler};
\node (l_aff) [lbl] at (3050,4770) {-m_AffinityHead\\-m_AffinityTail\\-m_pIdleThread};
\node (l_stub) [lbl] at (3205,5137) {-m_DeferredThreadReapStub};
\node (l_pnext) [lbl] at (2032,5499) {-m_pNext};
\node (l_tawait) [lbl] at (2243,5499) {-m_TimeAccountingWorkerWaiters};
\node (l_wake) [lbl] at (2000,5730) {-m_TimeAccountingWorkerWake\\-m_pWorkerWakeHead};
\node (l_ntdc) [lbl] at (2460,5730) {-m_NewThreadDataCondition};
\node (l_salg) [lbl] at (2970,5730) {-m_pSchedulingAlgorithm};
\node (l_ntd) [lbl] at (3210,5735) {-m_DelayedNewThreadData\\-m_NewThreadData};
\node (l_tas) [lbl] at (3570,5730) {-m_TimeAccountingState};
\node (l_dtr) [lbl] at (3440,5498) {-m_DeferredThreadReaps};
\node (l_ntw) [lbl] at (4110,5140) {-m_NewThreadWorker\\-m_TimeAccountingWorker};
\end{tikzpicture}
\end{document}
